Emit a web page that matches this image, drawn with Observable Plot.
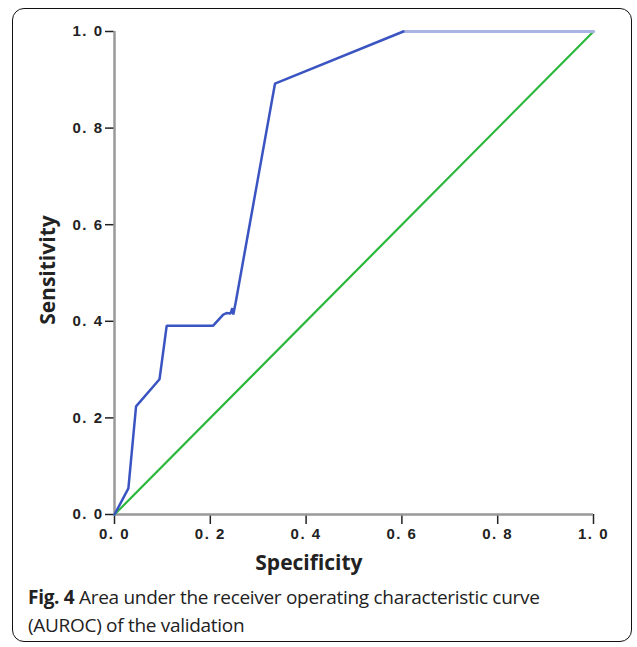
<!DOCTYPE html>
<html><head><meta charset="utf-8">
<script src="https://cdn.jsdelivr.net/npm/d3@7"></script>
<script src="https://cdn.jsdelivr.net/npm/@observablehq/plot@0.6"></script>
<style>
body{margin:0;background:#fff;}
#frame{position:absolute;left:12px;top:8px;width:618px;height:632px;border:1.6px solid #111;border-radius:12px;}
#chart{position:absolute;left:0;top:0;}
#caption{position:absolute;left:28px;top:583px;width:600px;font-family:"Open Sans",sans-serif;font-size:19px;line-height:28px;color:#222;letter-spacing:-0.3px;}
</style>
</head><body>
<div id="frame"></div>
<div id="chart"></div>
<div id="caption"><b>Fig. 4</b> Area under the receiver operating characteristic curve<br>(AUROC) of the validation</div>
<script>
// ROC curve (blue)
const rocSpec = [0, 0.029, 0.045, 0.094, 0.109, 0.206, 0.227, 0.234, 0.242, 0.246, 0.248, 0.253, 0.335, 0.603];
const rocSens = [0, 0.054, 0.224, 0.280, 0.391, 0.391, 0.414, 0.417, 0.416, 0.427, 0.414, 0.439, 0.892, 1.0];
// light blue tail of the curve
const tailSpec = [0.603, 1.0];
const tailSens = [1.0, 1.0];
// reference (chance) line
const refSpec = [0, 1];
const refSens = [0, 1];
const tickValues = [0, 0.2, 0.4, 0.6, 0.8, 1.0];
const xTitle = "Specificity";
const yTitle = "Sensitivity";

const roc = rocSpec.map((x, i) => ({x, y: rocSens[i]}));
const tail = tailSpec.map((x, i) => ({x, y: tailSens[i]}));
const ref = refSpec.map((x, i) => ({x, y: refSens[i]}));
const fmt = d => d.toFixed(1).replace(".", ". ");

const plot = Plot.plot({
  width: 637,
  height: 580,
  marginLeft: 114,
  marginRight: 44,
  marginTop: 31,
  marginBottom: 66,
  x: {domain: [0, 1]},
  y: {domain: [0, 1]},
  style: {fontFamily: "'Liberation Sans', Arial, sans-serif", fontSize: "15px", fontWeight: "bold", color: "#222", background: "transparent"},
  marks: [
    Plot.axisX({ticks: tickValues, tickSize: 10, tickPadding: 4, tickFormat: fmt, label: null, stroke: "#222", strokeWidth: 1.5}),
    Plot.axisY({ticks: tickValues, tickSize: 9, tickPadding: 2, tickFormat: fmt, label: null, stroke: "#222", strokeWidth: 1.5}),
    Plot.ruleY([0], {stroke: "#999", strokeWidth: 2.5}),
    Plot.ruleX([0], {stroke: "#999", strokeWidth: 2.5}),
    Plot.line(ref, {x: "x", y: "y", stroke: "#2cb83c", strokeWidth: 2.2}),
    Plot.line(tail, {x: "x", y: "y", stroke: "#aab4e2", strokeWidth: 3}),
    Plot.line(roc, {x: "x", y: "y", stroke: "#3a54c2", strokeWidth: 2.5, strokeLinejoin: "miter"})
  ]
});
document.getElementById("chart").appendChild(plot);

const svg = d3.select(plot);
svg.selectAll("g[aria-label$='tick label'] text")
  .attr("font-size", 15)
  .attr("font-weight", "bold")
  .attr("letter-spacing", "1.5px")
  .style("font-size", "15px")
  .style("font-family", "'Liberation Sans', Arial, sans-serif");
const xs = plot.scale("x"), ys = plot.scale("y");
svg.append("text")
  .attr("x", xs.apply(0.407)).attr("y", 570)
  .attr("text-anchor", "middle")
  .style("font-family", "'Open Sans', sans-serif").style("font-size", "21px").style("font-weight", "bold").style("fill", "#222")
  .text(xTitle);
svg.append("text")
  .attr("transform", `translate(55,${ys.apply(0.505)}) rotate(-90)`)
  .attr("text-anchor", "middle")
  .style("font-family", "'Open Sans', sans-serif").style("font-size", "21px").style("font-weight", "bold").style("fill", "#222")
  .text(yTitle);
</script>
</body></html>
